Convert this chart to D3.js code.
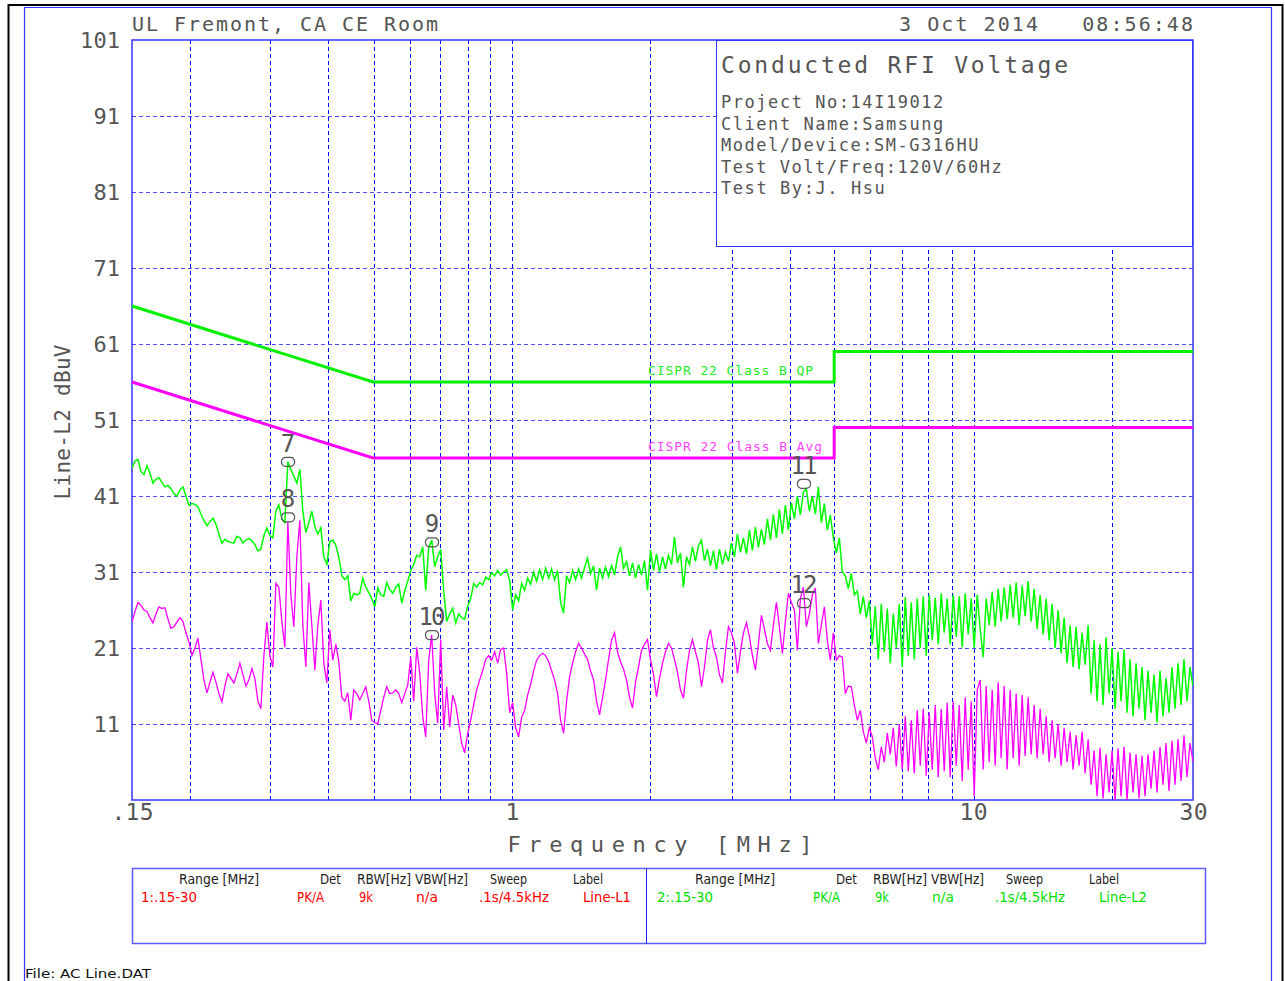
<!DOCTYPE html>
<meta charset="utf-8">
<style>
body { margin: 0; background: #fff; }
svg { display: block; }
.grid line { stroke: #0000ff; stroke-width: 1; stroke-dasharray: 4,3; }
text { font-family: "DejaVu Sans Mono", monospace; fill: #555; }
.tbl text { font-family: "DejaVu Sans", sans-serif; }
</style>
<svg width="1285" height="981"></svg>
<script src="https://d3js.org/d3.v7.min.js"></script>
<script>

// sweep: 355 points, log spaced, .15 - 30 MHz
var sweepStart = 0.15, sweepStop = 30, sweepPoints = 355;

// Line-L2 peak trace (dBuV)
var peakL2 = [
  44.7,45.6,45.8,44.2,43.8,45.0,44.0,42.7,43.2,43.4,
  42.8,42.2,42.4,42.0,41.3,41.0,41.8,42.2,41.0,39.8,
  40.0,39.9,39.6,38.6,37.8,37.1,37.6,38.1,37.3,36.0,
  34.8,35.3,35.0,34.9,34.8,35.7,35.5,34.8,35.2,35.4,
  35.1,34.6,33.8,34.0,35.8,36.8,35.8,35.5,39.0,39.8,
  38.0,37.5,45.5,44.5,43.6,42.7,44.5,39.0,36.2,37.5,
  39.0,37.0,36.0,36.8,33.0,32.0,35.0,35.2,34.5,33.0,
  30.5,30.0,30.5,27.2,28.2,28.0,28.2,30.2,29.0,28.3,
  27.5,26.4,28.9,28.0,27.8,29.6,28.7,28.2,29.0,29.4,
  26.9,28.5,29.8,31.2,32.0,33.2,33.0,34.3,28.6,34.2,
  35.2,31.7,33.0,34.0,28.5,24.5,25.5,26.2,24.3,25.5,
  25.0,24.8,26.5,27.5,29.5,29.0,29.6,29.3,30.3,30.0,
  30.9,30.5,31.2,30.6,31.0,31.3,29.9,26.0,28.0,27.2,
  29.5,28.6,30.2,29.4,31.0,29.8,31.3,30.0,31.5,30.2,
  31.4,30.0,31.2,27.0,25.6,30.5,29.6,31.2,30.0,31.4,
  30.2,31.6,32.8,30.8,31.8,28.6,31.5,30.2,31.6,30.4,
  31.8,30.6,33.0,34.3,31.5,32.4,30.5,32.2,30.2,32.0,
  30.6,32.5,28.6,33.9,31.2,33.4,31.0,33.0,31.4,33.2,
  32.0,35.6,32.2,33.5,29.0,33.0,32.0,34.3,32.4,34.5,
  35.2,32.5,34.0,31.8,33.8,31.3,34.0,32.0,33.6,32.4,
  34.8,33.0,36.0,33.6,35.5,33.4,36.5,33.8,36.9,34.2,
  36.6,34.6,38.0,35.2,38.6,35.5,39.2,36.0,39.8,36.5,
  40.1,38.0,41.0,38.5,41.5,42.0,39.0,41.0,38.6,42.2,
  37.5,40.0,36.5,38.5,35.5,33.5,35.5,31.0,30.5,28.8,
  30.8,28.0,28.5,25.5,27.8,25.0,27.2,21.5,26.5,19.5,
  26.8,20.5,26.2,19.0,25.5,21.0,26.8,18.5,27.7,20.0,
  27.0,19.5,27.5,21.0,27.8,20.0,28.0,22.0,27.6,21.5,
  28.2,23.0,27.5,21.5,28.0,22.5,27.8,21.1,28.2,22.8,
  27.5,21.0,28.0,23.5,19.8,27.5,24.0,28.4,23.8,28.8,
  24.5,29.0,24.8,29.3,25.0,29.6,24.0,29.2,25.2,29.8,
  24.5,28.8,23.5,28.0,22.8,27.5,22.0,26.8,21.0,26.0,
  20.3,25.0,19.0,24.0,18.5,23.8,18.2,23.0,18.8,24.0,
  15.0,22.0,14.0,21.5,13.5,22.4,15.0,21.0,13.0,20.5,
  14.0,20.8,12.5,19.5,12.0,19.0,13.0,18.5,11.5,18.0,
  12.5,17.5,11.2,18.0,12.0,17.0,12.5,18.5,13.0,19.0,
  13.5,19.5,14.0,18.5,16.0
];

// Line-L2 average trace (dBuV)
var avgL2 = [
  24.4,25.8,27.0,26.6,26.0,25.8,25.0,24.3,25.5,26.4,
  26.2,26.3,24.8,23.6,23.8,24.4,25.0,24.5,23.0,21.8,
  20.0,21.0,22.3,19.5,16.8,15.1,16.5,17.8,16.5,15.0,
  13.9,16.0,17.6,17.0,16.4,17.6,19.0,17.5,16.0,16.8,
  18.3,17.0,14.0,13.0,20.0,24.4,20.0,18.5,29.5,29.0,
  24.5,21.1,37.6,28.0,23.8,33.0,37.8,24.0,18.5,29.6,
  24.0,18.1,24.0,27.3,19.0,16.4,23.4,19.4,21.5,19.2,
  14.5,14.0,15.1,11.5,15.5,15.0,14.2,15.0,15.9,14.0,
  11.5,11.2,11.0,12.8,14.5,15.9,15.0,15.1,15.5,15.0,
  13.8,15.0,16.1,19.8,14.0,21.1,17.7,12.0,9.3,19.4,
  22.7,15.0,11.1,22.1,10.2,15.9,10.6,14.8,13.5,11.0,
  8.5,7.2,9.8,11.5,13.5,15.5,16.8,18.0,19.5,20.0,
  19.4,20.5,19.0,20.8,21.0,17.7,12.5,13.8,10.5,9.3,
  11.9,12.8,14.8,16.2,18.0,19.4,20.0,20.3,20.0,19.2,
  18.0,16.8,15.0,11.5,9.8,14.0,17.2,19.0,20.5,21.6,
  21.0,20.2,19.5,18.0,16.8,14.0,12.2,14.5,16.8,19.5,
  22.0,23.0,20.5,19.2,18.2,16.8,14.5,13.1,16.5,18.5,
  20.7,21.5,22.1,19.5,17.5,14.6,17.0,19.0,20.5,21.6,
  21.0,19.5,17.8,15.5,14.4,18.0,20.7,22.1,20.5,19.0,
  15.9,18.5,22.0,23.4,21.0,19.8,17.5,16.4,20.5,23.8,
  23.0,21.6,17.7,20.5,23.0,24.3,22.5,20.0,18.1,21.5,
  25.3,23.5,21.6,20.7,24.0,27.0,23.8,20.3,24.5,28.2,
  27.0,26.0,20.7,27.5,29.0,23.8,25.5,28.0,28.9,21.6,
  24.0,26.4,22.0,19.4,23.0,19.4,20.0,19.8,15.0,16.0,
  15.9,13.5,11.5,12.8,10.0,8.5,10.5,9.3,6.5,5.0,
  8.0,6.0,9.8,7.0,10.5,5.4,11.0,5.0,12.0,4.8,
  11.5,4.5,12.8,5.5,13.0,4.2,12.5,5.0,13.5,4.0,
  13.0,4.8,13.8,4.0,14.0,5.5,13.5,3.5,14.5,5.0,
  14.0,1.5,15.5,16.8,5.0,16.0,6.0,15.5,5.5,16.5,
  6.5,16.0,5.0,15.5,6.5,15.0,5.5,14.8,6.8,14.5,
  7.0,13.5,6.5,13.0,7.0,12.0,6.0,11.5,6.5,11.0,
  5.5,10.5,6.0,10.0,5.0,9.5,5.5,10.0,4.5,9.0,
  3.0,7.5,1.5,7.9,1.2,7.0,2.0,7.5,1.0,7.8,
  1.5,8.0,1.0,7.2,2.0,7.0,1.2,6.8,1.5,7.0,
  2.5,7.5,2.0,8.0,3.0,8.5,2.2,8.8,3.0,9.0,
  3.5,9.5,4.0,8.5,6.0
];

// limit lines
var qpLimitFreqs = [0.15, 0.5, 5, 5, 30];
var qpLimitLevels = [66, 56, 56, 60, 60];
var avgLimitFreqs = [0.15, 0.5, 5, 5, 30];
var avgLimitLevels = [56, 46, 46, 50, 50];
var qpLimitName = "CISPR 22 Class B QP";
var avgLimitName = "CISPR 22 Class B Avg";

// markers
var markerIds = [7, 8, 9, 10, 11, 12];
var markerFreqs = [0.327, 0.327, 0.671, 0.671, 4.30, 4.30];
var markerLevels = [45.5, 38.2, 34.9, 22.7, 42.6, 26.9];

// axes
var gridFreqs = [0.2, 0.3, 0.4, 0.5, 0.6, 0.7, 0.8, 0.9, 1, 2, 3, 4, 5, 6, 7, 8, 9, 10, 20];
var gridLevels = [11, 21, 31, 41, 51, 61, 71, 81, 91];
var freqTicks = [0.15, 1, 10, 30];
var freqTickLabels = [".15", "1", "10", "30"];
var levelTicks = [101, 91, 81, 71, 61, 51, 41, 31, 21, 11];

// texts
var siteText = "UL Fremont, CA CE Room";
var dateText = "3 Oct 2014   08:56:48";
var infoTitle = "Conducted RFI Voltage";
var infoLines = ["Project No:14I19012", "Client Name:Samsung", "Model/Device:SM-G316HU",
                 "Test Volt/Freq:120V/60Hz", "Test By:J. Hsu"];
var tableHeaders = ["Range [MHz]", "Det", "RBW[Hz]", "VBW[Hz]", "Sweep", "Label"];
var tableRow1 = ["1:.15-30", "PK/A", "9k", "n/a", ".1s/4.5kHz", "Line-L1"];
var tableRow2 = ["2:.15-30", "PK/A", "9k", "n/a", ".1s/4.5kHz", "Line-L2"];
var fileText = "File: AC Line.DAT";

var svg = d3.select("svg");

var x = d3.scaleLog().domain([sweepStart, sweepStop]).range([132, 1193]);
var y = d3.scaleLinear().domain([1, 101]).range([800, 40]);

var sweepFreqs = d3.range(sweepPoints).map(function(i) {
  return sweepStart * Math.pow(sweepStop / sweepStart, i / (sweepPoints - 1));
});

// outer frames
svg.append("path")
    .attr("d", "M8.5,981V5H1282.5V981")
    .attr("fill", "none").attr("stroke", "#000").attr("stroke-width", 2);
svg.append("path")
    .attr("d", "M24.5,981V7.5H1271.5V981")
    .attr("fill", "none").attr("stroke", "#3030ff").attr("stroke-width", 1.2);

// grid (snapped to even pixel columns so the 1px dashes stay blue)
var grid = svg.append("g").attr("class", "grid");
grid.selectAll(".vx").data(gridFreqs).enter().append("line")
    .attr("x1", function(d) { return 2 * Math.round(x(d) / 2) + 0.5; })
    .attr("x2", function(d) { return 2 * Math.round(x(d) / 2) + 0.5; })
    .attr("y1", y(101)).attr("y2", y(1));
grid.selectAll(".hy").data(gridLevels).enter().append("line")
    .attr("y1", function(d) { return Math.round(y(d)) + 0.5; })
    .attr("y2", function(d) { return Math.round(y(d)) + 0.5; })
    .attr("x1", x(sweepStart)).attr("x2", x(sweepStop))
    .style("stroke", "#4d4dff");

// info box
svg.append("rect")
    .attr("x", 716.5).attr("y", 40.5).attr("width", 476).attr("height", 206)
    .attr("fill", "#fff").attr("stroke", "#3030ff").attr("stroke-width", 1);

// plot frame
svg.append("rect")
    .attr("x", 132).attr("y", 40).attr("width", 1061).attr("height", 760)
    .attr("fill", "none").attr("stroke", "#3535ff").attr("stroke-width", 1.5);

// axes
var yAxis = svg.append("g")
    .attr("transform", "translate(132,0)")
    .call(d3.axisLeft(y).tickValues(levelTicks).tickSize(0).tickPadding(12));
yAxis.select(".domain").remove();
yAxis.selectAll("text")
    .attr("dy", "0.36em")
    .style("font-family", "DejaVu Sans Mono, monospace").style("font-size", "22px").style("fill", "#555")
    .attr("textLength", function(d) { return String(d).length * 13.3; });

var xAxis = svg.append("g")
    .attr("transform", "translate(0,800)")
    .call(d3.axisBottom(x).tickValues(freqTicks)
      .tickFormat(function(d, i) { return freqTickLabels[i]; })
      .tickSize(0).tickPadding(4));
xAxis.select(".domain").remove();
xAxis.selectAll("text")
    .style("font-family", "DejaVu Sans Mono, monospace").style("font-size", "23px").style("fill", "#555")
    .attr("textLength", function(d, i) { return freqTickLabels[i].length * 14; });

// axis titles
svg.append("text")
    .attr("transform", "translate(70,422) rotate(-90)")
    .attr("text-anchor", "middle")
    .attr("textLength", 155)
    .style("font-size", "21px")
    .text("Line-L2 dBuV");
svg.append("text")
    .attr("x", 660).attr("y", 852)
    .attr("text-anchor", "middle")
    .attr("textLength", 305)
    .style("font-size", "22px")
    .text("Frequency [MHz]");

// header texts
svg.append("text")
    .attr("x", 132).attr("y", 31).attr("textLength", 306)
    .style("font-size", "20px")
    .text(siteText);
svg.append("text")
    .attr("x", 899).attr("y", 31).attr("textLength", 294)
    .attr("xml:space", "preserve").style("white-space", "pre")
    .style("font-size", "20px")
    .text(dateText);

svg.append("text")
    .attr("x", 721).attr("y", 73).attr("textLength", 347)
    .style("font-size", "23px")
    .text(infoTitle);
svg.selectAll(".info").data(infoLines).enter().append("text")
    .attr("x", 721)
    .attr("y", function(d, i) { return 108 + i * 21.5; })
    .attr("textLength", function(d) { return d.length * 11.7; })
    .style("font-size", "17px")
    .text(function(d) { return d; });

// limit lines
var limitLine = d3.line()
    .x(function(d) { return x(d[0]); })
    .y(function(d) { return y(d[1]); });

svg.append("path")
    .attr("d", limitLine(d3.zip(qpLimitFreqs, qpLimitLevels)))
    .attr("fill", "none").attr("stroke", "#00f000").attr("stroke-width", 3);
svg.append("path")
    .attr("d", limitLine(d3.zip(avgLimitFreqs, avgLimitLevels)))
    .attr("fill", "none").attr("stroke", "#ff00ff").attr("stroke-width", 3);

svg.append("text")
    .attr("x", 648).attr("y", 375).attr("textLength", 165)
    .style("font-size", "13px").style("fill", "#22ee22")
    .text(qpLimitName);
svg.append("text")
    .attr("x", 648).attr("y", 451).attr("textLength", 174)
    .style("font-size", "13px").style("fill", "#ff44ff")
    .text(avgLimitName);

// traces
svg.append("clipPath").attr("id", "plotclip")
  .append("rect").attr("x", 132).attr("y", 40).attr("width", 1061).attr("height", 760);

var traceLine = d3.line()
    .x(function(d, i) { return x(sweepFreqs[i]); })
    .y(function(d) { return y(d); });

svg.append("path")
    .attr("clip-path", "url(#plotclip)")
    .attr("d", traceLine(peakL2))
    .attr("fill", "none").attr("stroke", "#00ff00").attr("stroke-width", 1.5);
svg.append("path")
    .attr("clip-path", "url(#plotclip)")
    .attr("d", traceLine(avgL2))
    .attr("fill", "none").attr("stroke", "#ff00ff").attr("stroke-width", 1.3);

// markers
var markers = svg.selectAll(".marker").data(markerIds).enter().append("g")
    .attr("transform", function(d, i) {
      return "translate(" + x(markerFreqs[i]) + "," + y(markerLevels[i]) + ")";
    });
markers.append("rect")
    .attr("x", -6.5).attr("y", -4.5).attr("width", 13).attr("height", 9).attr("rx", 4)
    .attr("fill", "none").attr("stroke", "#555").attr("stroke-width", 1.2);
markers.append("text")
    .attr("y", -10)
    .attr("text-anchor", "middle")
    .attr("textLength", function(d) { return String(d).length * 13.5; })
    .style("font-size", "24px").style("fill", "#555")
    .text(function(d) { return d; });

// setup table
var tbl = svg.append("g").attr("class", "tbl");
tbl.append("rect")
    .attr("x", 132.5).attr("y", 868.5).attr("width", 1073).attr("height", 75)
    .attr("fill", "none").attr("stroke", "#5a5aff").attr("stroke-width", 1.5);
tbl.append("line")
    .attr("x1", 646.5).attr("x2", 646.5).attr("y1", 868.5).attr("y2", 943.5)
    .attr("stroke", "#2020ff").attr("stroke-width", 1);

var headX = [47, 188, 225, 283, 358, 441];
var headW = [80, 21, 54, 53, 37, 30];
var cellX = [9, 165, 227, 284, 347, 451];
var cellW = [56, 27, 14, 22, 70, 48];

[[132, tableRow1, "#ff0000"], [648, tableRow2, "#00e000"]].forEach(function(half) {
  var x0 = half[0];
  tbl.selectAll(null).data(tableHeaders).enter().append("text")
      .attr("x", function(d, i) { return x0 + headX[i]; })
      .attr("y", 884)
      .attr("textLength", function(d, i) { return headW[i]; })
      .attr("lengthAdjust", "spacingAndGlyphs")
      .style("font-size", "14px").style("fill", "#222")
      .text(function(d) { return d; });
  tbl.selectAll(null).data(half[1]).enter().append("text")
      .attr("x", function(d, i) { return x0 + cellX[i]; })
      .attr("y", 902)
      .attr("textLength", function(d, i) { return cellW[i]; })
      .attr("lengthAdjust", "spacingAndGlyphs")
      .style("font-size", "14px").style("fill", half[2])
      .text(function(d) { return d; });
});

svg.append("text")
    .attr("x", 25).attr("y", 978).attr("textLength", 126)
    .attr("lengthAdjust", "spacingAndGlyphs")
    .style("font-family", "DejaVu Sans, sans-serif")
    .style("font-size", "13px").style("fill", "#111")
    .text(fileText);

</script>
